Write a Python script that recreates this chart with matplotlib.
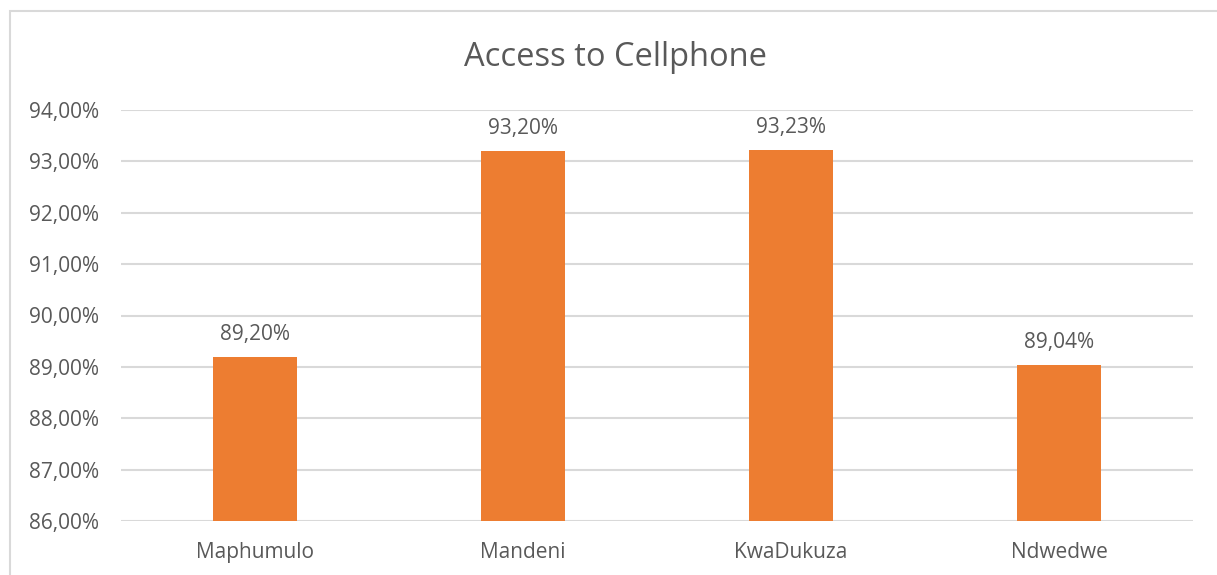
import matplotlib.pyplot as plt
from matplotlib.patches import Rectangle
from matplotlib.ticker import FuncFormatter

# --- data
municipalities = ['Maphumulo', 'Mandeni', 'KwaDukuza', 'Ndwedwe']
cellphoneAccess = [89.20, 93.20, 93.23, 89.04]
yMin, yMax, yStep = 86, 94, 1

textColor = '#595959'
gridColor = '#D9D9D9'
barColor = '#ED7D31'
plt.rcParams['font.family'] = ['Open Sans', 'DejaVu Sans']


def pct(v, pos=None):
    return ('%.2f%%' % v).replace('.', ',')


fig = plt.figure(figsize=(12.17, 5.75), dpi=100)
ax = fig.add_axes([121 / 1217, 54 / 575, 1072 / 1217, 411 / 575])

# chart border (Excel style)
fig.patches.append(Rectangle((10 / 1217, -0.05), 1.1, (575 - 11) / 575 + 0.05,
                             transform=fig.transFigure, fill=False,
                             edgecolor=gridColor, linewidth=1.5))

xPos = range(len(municipalities))
bars = ax.bar(xPos, cellphoneAccess, width=0.313, color=barColor, zorder=3)

for x, v in zip(xPos, cellphoneAccess):
    ax.annotate(pct(v), (x, v), xytext=(0, 16), textcoords='offset points',
                ha='center', va='center', fontsize=15, color=textColor)

ax.set_xlim(-0.5, len(municipalities) - 0.5)
ax.set_ylim(yMin, yMax)
ax.set_yticks(range(yMin, yMax + 1, yStep))
ax.yaxis.set_major_formatter(FuncFormatter(pct))
ax.set_xticks(list(xPos))
ax.set_xticklabels(municipalities)
ax.tick_params(axis='both', length=0, labelsize=15, labelcolor=textColor)
ax.tick_params(axis='x', pad=15)
ax.tick_params(axis='y', pad=16)
ax.grid(axis='y', color=gridColor, linewidth=1.5, zorder=0)
for side in ['top', 'right', 'left', 'bottom']:
    ax.spines[side].set_visible(False)

fig.text(615 / 1217, 1 - 57 / 575, 'Access to Cellphone', ha='center', va='center',
         fontsize=23.5, color=textColor)

plt.savefig('out.png', dpi=100)
